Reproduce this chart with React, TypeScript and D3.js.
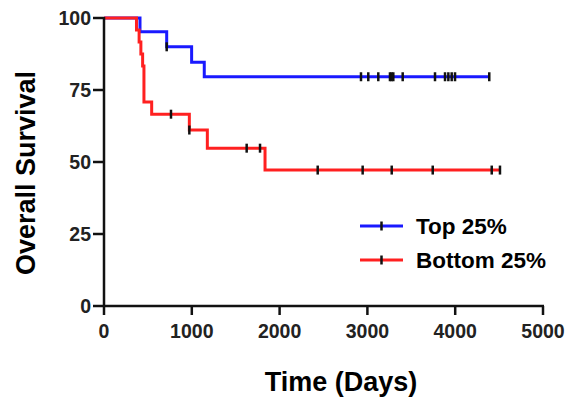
import React from 'react';
import * as d3 from 'd3';

// Kaplan-Meier steps (days, % survival)
const topTimes = [0, 410, 714, 998, 1142];
const topSurv = [100, 95.2, 90.0, 84.6, 79.6];
const topEnd = 4390;
const topCensor = [714, 2927, 3010, 3124, 3257, 3275, 3295, 3402, 3770, 3884, 3922, 3960, 3998, 4388];

const bottomTimes = [0, 370, 400, 420, 440, 455, 543, 972, 1177, 1834];
const bottomSurv = [100, 95.8, 91.7, 87.5, 83.3, 70.8, 66.6, 61.1, 54.8, 47.2];
const bottomEnd = 4510;
const bottomCensor = [763, 972, 1625, 1777, 2434, 2946, 3277, 3744, 4416, 4510];

const xTicks = [0, 1000, 2000, 3000, 4000, 5000];
const yTicks = [0, 25, 50, 75, 100];
const legendLabels = ['Top 25%', 'Bottom 25%'];
const colors = ['#1a1aff', '#ff2020'];

const W = 568;
const H = 401;
const FONT = 'Liberation Sans, Arial, Helvetica, sans-serif';

const x = d3.scaleLinear().domain([0, 5000]).range([104, 543]);
const y = d3.scaleLinear().domain([0, 100]).range([306, 18]);

function stepPoints(times: number[], surv: number[], end: number): [number, number][] {
    const pts: [number, number][] = times.map((t, i) => [t, surv[i]]);
    pts.push([end, surv[surv.length - 1]]);
    return pts;
}

function survAt(times: number[], surv: number[], t: number) {
    let v = surv[0];
    times.forEach((tt, i) => {
        if (tt <= t) v = surv[i];
    });
    return v;
}

const line = d3.line<[number, number]>()
    .x(d => x(d[0]))
    .y(d => y(d[1]))
    .curve(d3.curveStepAfter);

function Curve(props: { times: number[]; surv: number[]; end: number; censor: number[]; color: string }) {
    const { times, surv, end, censor, color } = props;
    return (
        <g>
            <path d={line(stepPoints(times, surv, end)) || ''} fill="none" stroke={color} strokeWidth={3} />
            {censor.map((c, i) => (
                <line key={i} x1={x(c)} x2={x(c)} y1={y(survAt(times, surv, c)) - 4.5}
                    y2={y(survAt(times, surv, c)) + 4.5} stroke="#111" strokeWidth={2.5} />
            ))}
        </g>
    );
}

export default function App() {
    return (
        <svg width={W} height={H} style={{ position: 'absolute', left: 0, top: 0, background: '#fff' }}
            fontFamily={FONT}>
            <Curve times={topTimes} surv={topSurv} end={topEnd} censor={topCensor} color={colors[0]} />
            <Curve times={bottomTimes} surv={bottomSurv} end={bottomEnd} censor={bottomCensor} color={colors[1]} />

            {/* axes */}
            <line x1={x(0)} x2={x(0)} y1={y(100) - 1} y2={y(0) + 1} stroke="#111" strokeWidth={2.5} />
            <line x1={x(0) - 1} x2={x(5000) + 1} y1={y(0)} y2={y(0)} stroke="#111" strokeWidth={2.5} />
            {yTicks.map(t => (
                <g key={'y' + t}>
                    <line x1={x(0) - 11} x2={x(0)} y1={y(t)} y2={y(t)} stroke="#111" strokeWidth={2.5} />
                    <text x={x(0) - 13} y={y(t)} dy="0.36em" textAnchor="end" fontSize={19.5}
                        fontWeight="bold" fill="#222">{t}</text>
                </g>
            ))}
            {xTicks.map(t => (
                <g key={'x' + t}>
                    <line x1={x(t)} x2={x(t)} y1={y(0)} y2={y(0) + 9} stroke="#111" strokeWidth={2.5} />
                    <text x={x(t)} y={338} textAnchor="middle" fontSize={19.5}
                        fontWeight="bold" fill="#222">{t}</text>
                </g>
            ))}

            {/* titles */}
            <text x={341} y={391} textAnchor="middle" fontSize={27} fontWeight="bold" fill="#000">Time (Days)</text>
            <text transform="translate(35,173) rotate(-90)" textAnchor="middle" fontSize={27}
                fontWeight="bold" fill="#000">Overall Survival</text>

            {/* legend */}
            {legendLabels.map((lab, i) => (
                <g key={lab} transform={`translate(0,${226 + i * 34})`}>
                    <line x1={360} x2={403} y1={0} y2={0} stroke={colors[i]} strokeWidth={3} />
                    <line x1={381.5} x2={381.5} y1={-4.5} y2={4.5} stroke="#111" strokeWidth={2.5} />
                    <text x={416} y={0} dy="0.36em" fontSize={22.5} fontWeight="bold" fill="#000">{lab}</text>
                </g>
            ))}
        </svg>
    );
}
